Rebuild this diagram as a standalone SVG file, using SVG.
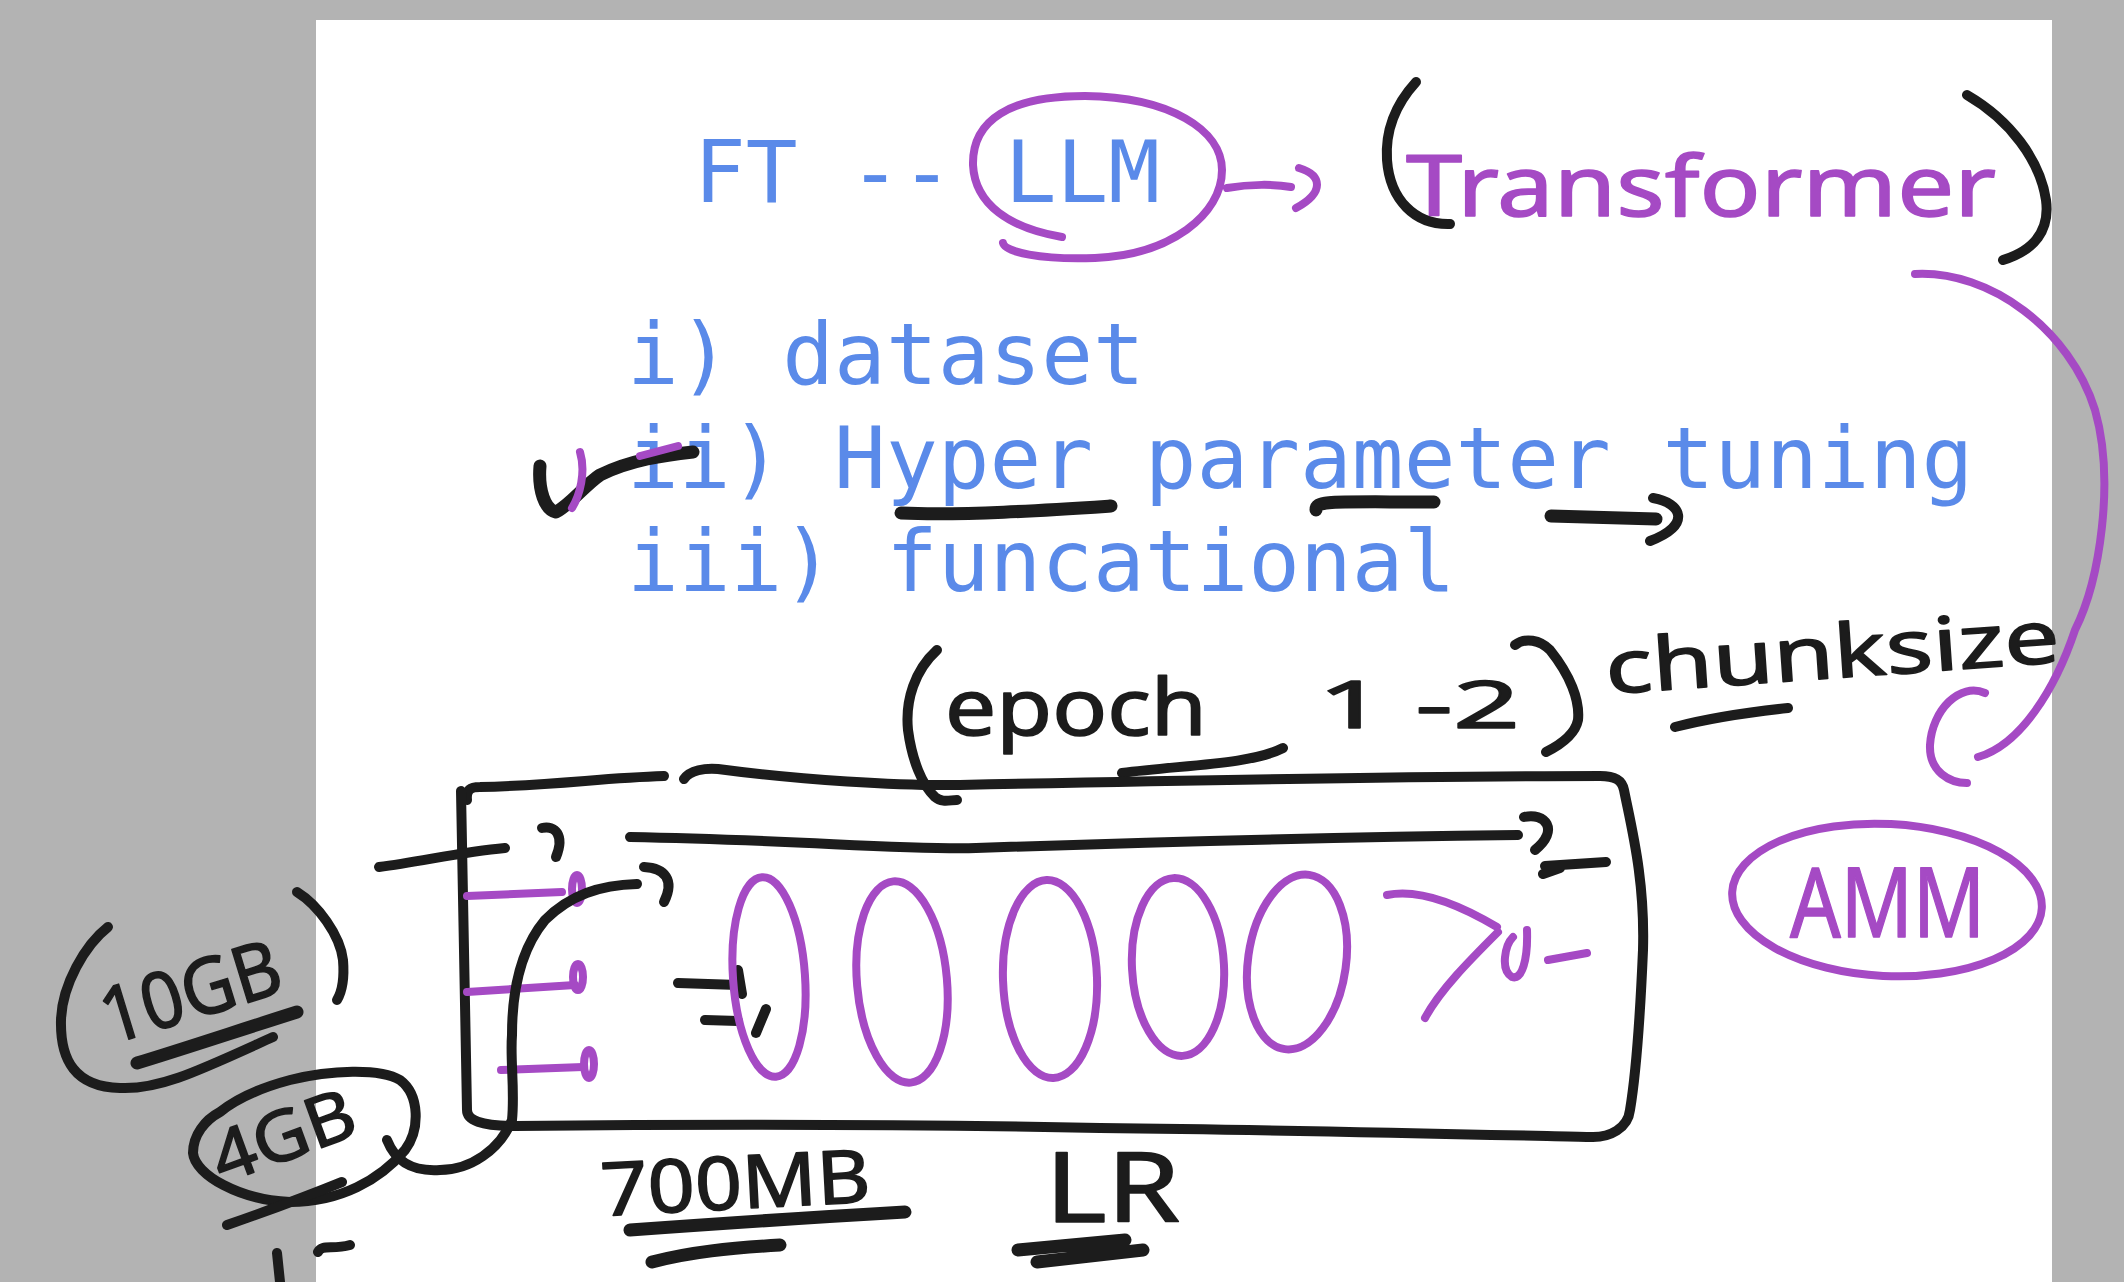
<svg xmlns="http://www.w3.org/2000/svg" width="2124" height="1282" viewBox="0 0 2124 1282">
<style>
.mono{font-family:"DejaVu Sans Mono","Liberation Mono",monospace;font-size:86px;fill:#5a8ae9}
.hand{font-family:"Noto Sans","Liberation Sans",sans-serif;stroke-linejoin:round;stroke-width:1.5}
.hb{fill:#1c1c1c;stroke:#1c1c1c}
.hp{fill:#a54ac4;stroke:#a54ac4}
.k{fill:none;stroke:#1c1c1c;stroke-width:10;stroke-linecap:round;stroke-linejoin:round}
.kt{fill:none;stroke:#1c1c1c;stroke-width:13;stroke-linecap:round;stroke-linejoin:round}
.p{fill:none;stroke:#a54ac4;stroke-width:8;stroke-linecap:round;stroke-linejoin:round}
</style>
<rect x="0" y="0" width="2124" height="1282" fill="#b3b3b3"/>
<rect x="316" y="20" width="1736" height="1262" fill="#ffffff"/>

<g id="title">
<text class="mono" x="694" y="202">FT -- LLM</text>
</g>
<g id="llm-circle">
<path class="p" d="M1062,237 C1010,228 975,205 973,165 C972,120 1010,96 1085,96 C1170,97 1222,130 1222,170 C1222,215 1170,255 1095,258 C1040,260 1005,252 1003,243"/>
</g>
<g id="transformer">
<path class="k" d="M1416,82 C1395,105 1385,130 1387,160 C1390,200 1415,225 1450,224"/>
<text class="hand hp" x="1406" y="216" font-size="84" textLength="590" lengthAdjust="spacingAndGlyphs">Transformer</text>
<path class="k" d="M1967,95 C2010,120 2040,160 2046,200 C2050,230 2035,250 2003,260"/>
</g>
<g id="list">
<text class="mono" x="627" y="384">i) dataset</text>
<text class="mono" x="627" y="488">ii) Hyper parameter tuning</text>
<text class="mono" x="627" y="591">iii) funcational</text>
</g>
<g id="check">
<path class="kt" d="M540,466 C538,490 545,510 556,512 C570,505 585,485 600,475 C630,460 665,455 693,452"/>
<path class="p" stroke-width="5" d="M580,452 C586,472 580,495 572,508 M640,456 L678,446"/>
</g>
<g id="underlines">
<path class="kt" d="M901,513 C960,516 1050,510 1111,506"/>
<path class="kt" d="M1316,510 C1316,500 1330,502 1434,502"/>
</g>
<g id="epoch">
<path class="k" d="M937,650 C915,670 905,700 908,730 C912,760 922,785 935,797 C942,803 950,800 957,800"/>
<text class="hand hb" x="945" y="735" font-size="78" textLength="262" lengthAdjust="spacingAndGlyphs">epoch</text>
<path class="k" d="M1122,773 C1180,765 1250,765 1283,748"/>
<text class="hand hb" x="1318" y="728" font-size="66" textLength="202" lengthAdjust="spacingAndGlyphs">1 -2</text>
<path class="k" d="M1515,645 C1525,637 1540,640 1550,650 C1570,675 1580,700 1578,720 C1575,735 1560,745 1546,752"/>
</g>
<g id="chunksize">
<text class="hand hb" x="1607" y="694" font-size="74" textLength="455" lengthAdjust="spacingAndGlyphs" transform="rotate(-4 1607 694)">chunksize</text>
<path class="k" d="M1675,727 C1710,718 1750,712 1788,708"/>
</g>
<g id="amm">
<ellipse cx="1887" cy="900" rx="155" ry="76" transform="rotate(3 1887 900)" class="p"/>
<text class="hand hp" x="1790" y="937" font-size="96" textLength="195" lengthAdjust="spacingAndGlyphs">AMM</text>
</g>
<g id="box">
<path class="k" d="M467,800 C466,790 470,787 480,787 C560,785 600,778 664,776"/>
<path class="k" d="M684,779 C690,770 705,768 718,769 C800,780 900,786 960,785 C1200,780 1450,776 1600,776 C1615,776 1622,780 1624,790 C1632,830 1645,880 1643,950 C1640,1020 1635,1080 1630,1110 C1628,1128 1610,1138 1590,1137 C1500,1135 1300,1130 1100,1128 C900,1124 700,1124 515,1126 C480,1126 467,1120 467,1110 L461,791"/>
<path class="k" d="M630,837 C800,840 900,850 976,848 C1150,842 1350,837 1518,835"/>
<path class="k" d="M542,828 C555,825 565,835 556,857"/>
<path class="k" d="M1524,817 C1545,812 1560,830 1535,850 M1545,866 L1606,862 M1543,874 L1560,868"/>
<path class="k" stroke-width="11" d="M379,867 C420,862 460,852 505,848"/>
<path class="k" stroke-width="11" d="M678,983 L738,985 M705,1020 L738,1021 M738,970 L742,994 M766,1009 L756,1033"/>
</g>
<g id="inputs">
<path class="p" d="M467,896 L562,892 M467,992 L575,985 M501,1070 L583,1067"/>
<ellipse class="p" cx="577" cy="889" rx="5" ry="14"/>
<ellipse class="p" cx="578" cy="977" rx="5" ry="13"/>
<ellipse class="p" cx="589" cy="1064" rx="5" ry="14"/>
</g>
<g id="layers">
<ellipse class="p" cx="769" cy="977" rx="36" ry="100" transform="rotate(-4 769 977)"/>
<ellipse class="p" cx="902" cy="982" rx="45" ry="101" transform="rotate(-5 902 982)"/>
<ellipse class="p" cx="1050" cy="979" rx="47" ry="99" transform="rotate(-2 1050 979)"/>
<ellipse class="p" cx="1178" cy="967" rx="46" ry="89" transform="rotate(-3 1178 967)"/>
<ellipse class="p" cx="1297" cy="962" rx="49" ry="88" transform="rotate(8 1297 962)"/>
<path class="p" d="M1387,895 C1420,888 1460,905 1497,927 M1498,932 C1470,960 1440,990 1425,1018 M1513,937 C1505,945 1500,970 1512,977 C1522,980 1528,960 1527,930 M1548,960 L1587,953"/>
</g>
<g id="mem-10gb">
<path class="k" d="M108,927 C85,945 62,985 61,1020 C60,1060 75,1087 120,1088 C160,1090 200,1070 273,1037"/>
<text class="hand hb" x="110" y="1045" font-size="78" textLength="185" lengthAdjust="spacingAndGlyphs" transform="rotate(-17 110 1045)">10GB</text>
<path class="kt" d="M137,1063 C180,1050 240,1030 297,1012"/>
<path class="k" d="M297,892 C318,905 340,935 343,960 C345,985 340,995 337,1000"/>
</g>
<g id="mem-4gb">
<path class="k" d="M220,1112 C205,1120 193,1135 193,1153 C195,1175 240,1200 290,1202 C340,1202 380,1180 405,1150 C420,1130 420,1095 400,1080 C380,1068 330,1070 290,1080 C260,1088 235,1100 220,1112"/>
<text class="hand hb" x="222" y="1184" font-size="70" textLength="148" lengthAdjust="spacingAndGlyphs" transform="rotate(-20 222 1184)">4GB</text>
<path class="k" stroke-width="11" d="M227,1225 C270,1210 310,1195 342,1182"/>
<path class="k" d="M277,1253 L280,1282 M318,1252 C322,1244 332,1250 350,1245"/>
</g>
<g id="mem-700mb">
<text class="hand hb" x="602" y="1216" font-size="74" textLength="270" lengthAdjust="spacingAndGlyphs" transform="rotate(-3 602 1216)">700MB</text>
<path class="kt" d="M630,1230 C700,1225 800,1218 905,1212"/>
<path class="kt" d="M652,1262 C690,1252 730,1248 780,1245"/>
</g>
<g id="lr">
<text class="hand hb" x="1045" y="1222" font-size="96" textLength="135" lengthAdjust="spacingAndGlyphs">LR</text>
<path class="kt" d="M1018,1250 L1125,1240 M1037,1262 L1143,1250"/>
</g>
<g id="connectors">
<path class="p" d="M1227,188 C1250,184 1275,184 1291,187 M1299,168 C1322,175 1325,192 1296,208"/>
<path class="kt" d="M1551,516 L1656,519"/>
<path class="k" stroke-width="11" d="M1653,498 C1682,503 1692,525 1650,541"/>
<path class="p" d="M1915,274 C1990,270 2070,330 2095,410 C2115,480 2100,580 2075,630 C2055,690 2020,745 1978,757"/>
<path class="p" d="M1985,693 C1960,682 1932,710 1930,745 C1929,772 1950,783 1967,783"/>
<path class="k" d="M387,1140 C395,1160 410,1172 440,1170 C470,1170 500,1150 512,1120 C515,1090 510,1060 512,1035 C512,990 520,950 545,920 C570,895 600,885 637,884"/>
<path class="k" d="M644,867 C665,868 675,880 664,902"/>
</g>
</svg>
